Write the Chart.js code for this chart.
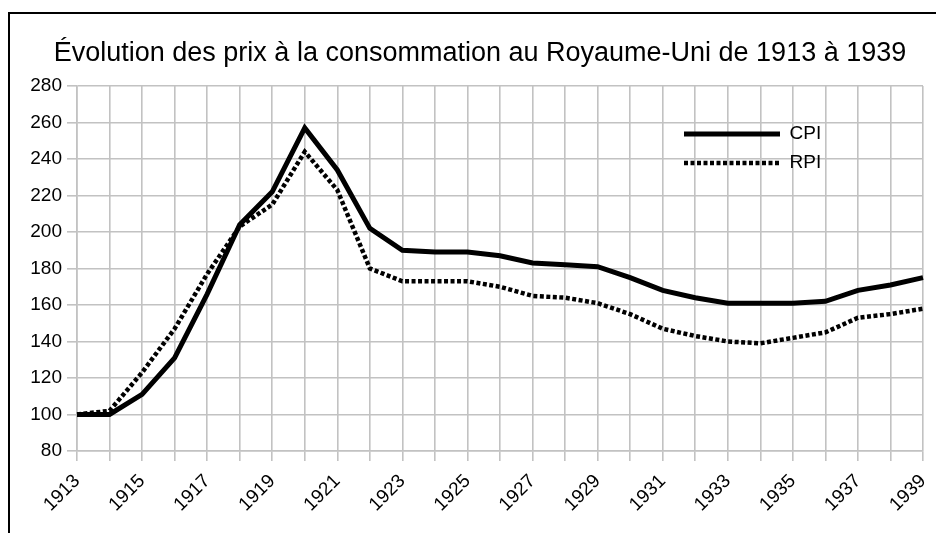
<!DOCTYPE html>
<html lang="fr">
<head>
<meta charset="utf-8">
<title>Évolution des prix à la consommation au Royaume-Uni</title>
<script src="https://cdn.jsdelivr.net/npm/chart.js@4.4.1/dist/chart.umd.min.js"></script>
<style>
    html, body { margin: 0; padding: 0; background: #fff; overflow: hidden; }
    #cadre { position: relative; width: 936px; height: 533px; }
    #bordure {
        position: absolute; left: 8px; top: 12px;
        width: 2000px; height: 2000px;
        border: 2px solid #000; pointer-events: none;
    }
</style>
</head>
<body>
<div id="cadre">
    <canvas id="graphique-prix"></canvas>
    <div id="bordure"></div>
</div>
<script>
// Données (base 100 en 1913)
const annees = ['1913', '1914', '1915', '1916', '1917', '1918', '1919', '1920', '1921',
    '1922', '1923', '1924', '1925', '1926', '1927', '1928', '1929', '1930', '1931',
    '1932', '1933', '1934', '1935', '1936', '1937', '1938', '1939'];
const valeursCPI = [100, 100, 111, 131, 166, 204, 222, 257, 234, 202, 190, 189, 189, 187,
    183, 182, 181, 175, 168, 164, 161, 161, 161, 162, 168, 171, 175];
const valeursRPI = [100, 102, 123, 147, 177, 203, 215, 244, 223, 180, 173, 173, 173, 170,
    165, 164, 161, 155, 147, 143, 140, 139, 142, 145, 153, 155, 158];
const anneesAffichees = ['1913', '1915', '1917', '1919', '1921', '1923', '1925', '1927',
    '1929', '1931', '1933', '1935', '1937', '1939'];
const graduationsY = [80, 100, 120, 140, 160, 180, 200, 220, 240, 260, 280];

const policeBase = '"Liberation Sans", Arial, sans-serif';
const couleurGrille = '#c2c2c2';

let graphiquePrix = null;

// Place la légende dans la zone de tracé (en haut à droite)
// et élargit la zone de découpe des graduations Y vers la gauche
const legendeInterne = {
    id: 'legendeInterne',
    afterLayout(chart) {
        const axeY = chart.scales.y;
        if (axeY) {
            axeY.left = 0;
        }
        const legende = chart.legend;
        if (!legende) return;
        const largeur = legende.width;
        const hauteur = legende.height;
        legende.left = 674;
        legende.top = 114.5;
        legende.right = legende.left + largeur;
        legende.bottom = legende.top + hauteur;
    }
};

// Légende : on reprend les pointillés et l'épaisseur de chaque série
function genererEtiquettes(chart) {
    const etiquettes = Chart.defaults.plugins.legend.labels.generateLabels(chart);
    etiquettes.forEach((etiquette) => {
        const serie = chart.data.datasets[etiquette.datasetIndex];
        etiquette.lineDash = serie.borderDash || [];
        etiquette.lineWidth = serie.borderWidth;
        etiquette.strokeStyle = serie.borderColor;
        etiquette.fontColor = '#000';
    });
    return etiquettes;
}

function creerGraphiquePrix() {
    const ctx = document.getElementById('graphique-prix').getContext('2d');

    graphiquePrix = new Chart(ctx, {
        type: 'line',
        data: {
            labels: annees,
            datasets: [{
                label: 'CPI',
                data: valeursCPI,
                borderColor: '#000',
                backgroundColor: '#000',
                borderWidth: 5,
                pointRadius: 0,
                tension: 0
            }, {
                label: 'RPI',
                data: valeursRPI,
                borderColor: '#000',
                backgroundColor: '#000',
                borderWidth: 4.5,
                borderDash: [4, 2.5],
                pointRadius: 0,
                tension: 0
            }]
        },
        options: {
            responsive: true,
            maintainAspectRatio: false,
            animation: false,
            layout: {
                padding: { left: 37, right: 13, top: 0, bottom: 0 }
            },
            plugins: {
                title: {
                    display: true,
                    text: 'Évolution des prix à la consommation au Royaume-Uni de 1913 à 1939',
                    color: '#000',
                    font: { family: policeBase, size: 27, weight: 'normal' },
                    padding: { top: 37, bottom: 16.6 }
                },
                legend: {
                    position: 'chartArea',
                    align: 'start',
                    labels: {
                        usePointStyle: true,
                        pointStyle: 'line',
                        pointStyleWidth: 96,
                        boxHeight: 19,
                        padding: 10,
                        color: '#000',
                        font: { family: policeBase, size: 19 },
                        generateLabels: genererEtiquettes
                    }
                },
                tooltip: { enabled: false }
            },
            scales: {
                x: {
                    grid: {
                        color: couleurGrille,
                        lineWidth: 1.6,
                        tickLength: 10
                    },
                    border: { color: couleurGrille, width: 1.6 },
                    ticks: {
                        autoSkip: false,
                        minRotation: 45,
                        maxRotation: 45,
                        padding: 9,
                        color: '#000',
                        font: { family: policeBase, size: 19 },
                        callback: function(valeur, index) {
                            const annee = annees[index];
                            return anneesAffichees.includes(annee) ? annee : '';
                        }
                    },
                    afterFit: function(echelle) {
                        echelle.height = 82;
                        // les étiquettes inclinées ne débordent pas à droite
                        echelle.paddingLeft = 0;
                        echelle.paddingRight = 0;
                    }
                },
                y: {
                    min: 80,
                    max: 280,
                    grid: {
                        color: couleurGrille,
                        lineWidth: 1.6,
                        tickLength: 10
                    },
                    border: { color: couleurGrille, width: 1.6 },
                    ticks: {
                        padding: 5,
                        color: '#000',
                        font: { family: policeBase, size: 19 }
                    },
                    afterBuildTicks: function(echelle) {
                        echelle.ticks = graduationsY.map(v => ({ value: v }));
                    },
                    afterFit: function(echelle) {
                        echelle.width = 40;
                    }
                }
            }
        },
        plugins: [legendeInterne]
    });
}

creerGraphiquePrix();
</script>
</body>
</html>
